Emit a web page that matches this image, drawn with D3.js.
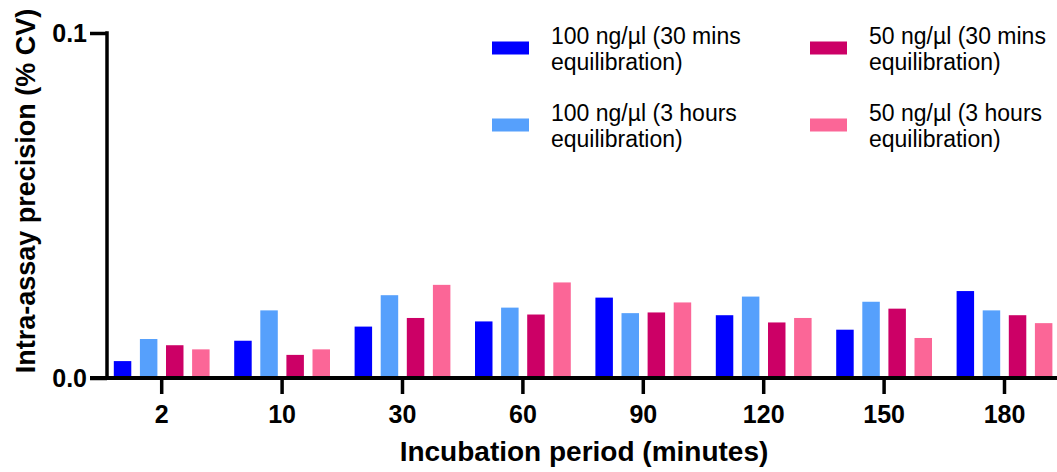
<!DOCTYPE html>
<html>
<head>
<meta charset="utf-8">
<script src="https://cdn.jsdelivr.net/npm/d3@7.9.0/dist/d3.min.js"></script>
<style>
  body { margin: 0; background: #fff; }
  svg { display: block; font-family: "Liberation Sans", Arial, sans-serif; }
</style>
</head>
<body>
<svg id="chart" width="1057" height="472"></svg>
<script>
// incubation periods (minutes)
const categories = ['2', '10', '30', '60', '90', '120', '150', '180'];

// intra-assay precision per series
const conc100_30min = [0.0049, 0.0108, 0.0149, 0.0164, 0.0233, 0.0182, 0.0140, 0.0252];
const conc100_3h    = [0.0113, 0.0196, 0.0240, 0.0204, 0.0188, 0.0236, 0.0221, 0.0196];
const conc50_30min  = [0.0095, 0.0067, 0.0174, 0.0184, 0.0190, 0.0161, 0.0201, 0.0182];
const conc50_3h     = [0.0083, 0.0083, 0.0270, 0.0277, 0.0219, 0.0174, 0.0116, 0.0159];

const seriesNames = [
  '100 ng/µl (30 mins equilibration)',
  '100 ng/µl (3 hours equilibration)',
  '50 ng/µl (30 mins equilibration)',
  '50 ng/µl (3 hours equilibration)'
];
const seriesColors = ['#0000ff', '#56a0fc', '#cc0066', '#fb6697'];
const seriesValues = [conc100_30min, conc100_3h, conc50_30min, conc50_3h];

const yTicks = [0, 0.1];

const svg = d3.select('#chart');

// scales
const x = d3.scaleBand().domain(categories).range([101.5, 101.5 + 8 * 120.4]);
const xSub = d3.scaleBand()
  .domain(d3.range(seriesNames.length))
  .range([x.bandwidth() / 2 - 52.2, x.bandwidth() / 2 + 52.2])
  .paddingInner(0.33)
  .paddingOuter(0.165);
const y = d3.scaleLinear().domain([0, 0.1]).range([378, 33]);

// bars
seriesValues.forEach((vals, s) => {
  svg.append('g')
    .selectAll('rect')
    .data(vals)
    .join('rect')
    .attr('x', (d, i) => x(categories[i]) + xSub(s))
    .attr('width', xSub.bandwidth())
    .attr('y', (d) => y(d))
    .attr('height', (d) => y(0) - y(d))
    .attr('fill', seriesColors[s]);
});

// x axis
const xAxis = svg.append('g')
  .attr('transform', `translate(0,${y(0)})`)
  .call(d3.axisBottom(x).tickSize(16).tickPadding(11).tickSizeOuter(0));
xAxis.select('.domain').attr('stroke', '#000').attr('stroke-width', 4)
  .attr('d', `M90,0H1060`);
xAxis.selectAll('.tick line').attr('stroke', '#000').attr('stroke-width', 3.5);
xAxis.selectAll('.tick text')
  .attr('font-size', 25).attr('font-weight', 'bold').attr('fill', '#000')
  .attr('font-family', '"Liberation Sans", Arial, sans-serif');

// y axis
const yAxis = svg.append('g')
  .attr('transform', 'translate(107,0)')
  .call(d3.axisLeft(y).tickValues(yTicks).tickFormat(d3.format('.1f'))
    .tickSize(17).tickPadding(3).tickSizeOuter(0));
yAxis.select('.domain').attr('stroke', '#000').attr('stroke-width', 3.5)
  .attr('d', `M0,${y(0.1) - 1.75}V${y(0) + 2}`);
yAxis.selectAll('.tick line').attr('stroke', '#000').attr('stroke-width', 3.5);
yAxis.selectAll('.tick text')
  .attr('font-size', 25).attr('font-weight', 'bold').attr('fill', '#000')
  .attr('font-family', '"Liberation Sans", Arial, sans-serif');

// axis titles
svg.append('text')
  .attr('x', 584).attr('y', 461)
  .attr('text-anchor', 'middle')
  .attr('font-size', 28).attr('font-weight', 'bold')
  .text('Incubation period (minutes)');

svg.append('text')
  .attr('transform', 'translate(35,191) rotate(-90)')
  .attr('text-anchor', 'middle')
  .attr('font-size', 27).attr('font-weight', 'bold')
  .text('Intra-assay precision (% CV)');

// legend, 2 columns x 2 rows
const legendCols = [492, 810];
const legendRows = [48, 125];
seriesNames.forEach((name, i) => {
  const col = Math.floor(i / 2);
  const row = i % 2;
  const g = svg.append('g')
    .attr('transform', `translate(${legendCols[col]},${legendRows[row]})`);
  g.append('rect')
    .attr('x', 0).attr('y', -6.5)
    .attr('width', 37).attr('height', 13)
    .attr('fill', seriesColors[i]);
  const cut = name.indexOf(' equilibration');
  const t = g.append('text')
    .attr('x', 59).attr('y', 2)
    .attr('font-size', 23).attr('fill', '#000');
  t.append('tspan').attr('x', 59).attr('dy', '-0.25em').text(name.slice(0, cut));
  t.append('tspan').attr('x', 59).attr('dy', '1.13em').text(name.slice(cut + 1));
});
</script>
</body>
</html>
